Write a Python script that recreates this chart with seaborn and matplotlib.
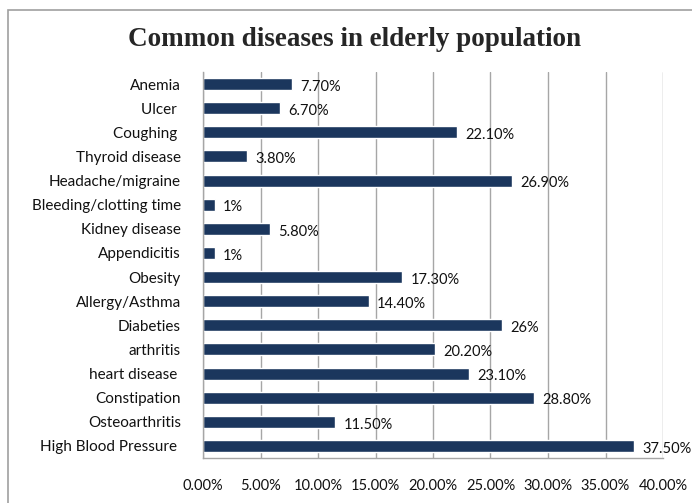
import seaborn as sns
import pandas as pd
import matplotlib.pyplot as plt
from matplotlib.patches import Rectangle
from matplotlib.ticker import MultipleLocator, FuncFormatter

diseases = ["Anemia", "Ulcer ", "Coughing ", "Thyroid disease", "Headache/migraine",
            "Bleeding/clotting time", "Kidney disease", "Appendicitis", "Obesity",
            "Allergy/Asthma", "Diabeties", "arthritis", "heart disease ", "Constipation",
            "Osteoarthritis", "High Blood Pressure "]
percent = [7.7, 6.7, 22.1, 3.8, 26.9, 1, 5.8, 1, 17.3, 14.4, 26, 20.2, 23.1, 28.8, 11.5, 37.5]
labels = ["7.70%", "6.70%", "22.10%", "3.80%", "26.90%", "1%", "5.80%", "1%", "17.30%",
          "14.40%", "26%", "20.20%", "23.10%", "28.80%", "11.50%", "37.50%"]

df = pd.DataFrame({"disease": diseases, "percent": percent})

sns.set_theme(style="white")
plt.rcParams["font.family"] = ["Lato", "DejaVu Sans"]

fig = plt.figure(figsize=(6.92, 5.03), dpi=100)
ax = fig.add_axes([203 / 692, 1 - 458 / 503, 460 / 692, 386 / 503])

sns.barplot(data=df, y="disease", x="percent", orient="h", color="#1B365D",
            saturation=1, width=0.5, ax=ax)

for i, (v, lab) in enumerate(zip(percent, labels)):
    ax.annotate(lab, (v, i), xytext=(6, -2), textcoords="offset points",
                ha="left", va="center", fontsize=10.5, color="#111111")

ax.set_xlim(0, 40)
ax.xaxis.set_major_locator(MultipleLocator(5))
ax.xaxis.set_major_formatter(FuncFormatter(lambda x, p: "{:.2f}%".format(x)))
ax.grid(axis="x", color="#A6A6A6", linewidth=1)
ax.set_axisbelow(True)
ax.set_xlabel("")
ax.set_ylabel("")
ax.tick_params(axis="x", length=0, pad=15, labelsize=10.5, colors="#111111")
ax.tick_params(axis="y", length=0, pad=16, labelsize=11, colors="#111111")
for s in ["top", "right"]:
    ax.spines[s].set_visible(False)
for s in ["left", "bottom"]:
    ax.spines[s].set_color("#A6A6A6")
    ax.spines[s].set_linewidth(1)

fig.text(355 / 692, 1 - 40 / 503, "Common diseases in elderly population",
         ha="center", va="center", fontsize=19.5, fontweight="bold",
         family=["Liberation Serif", "DejaVu Serif"])

fig.patches.append(Rectangle((8 / 692, -0.1), 1.2, 1 - 10 / 503 + 0.1,
                             transform=fig.transFigure, fill=False,
                             edgecolor="#A0A0A0", linewidth=1.2))

fig.savefig("out.png", dpi=100)
